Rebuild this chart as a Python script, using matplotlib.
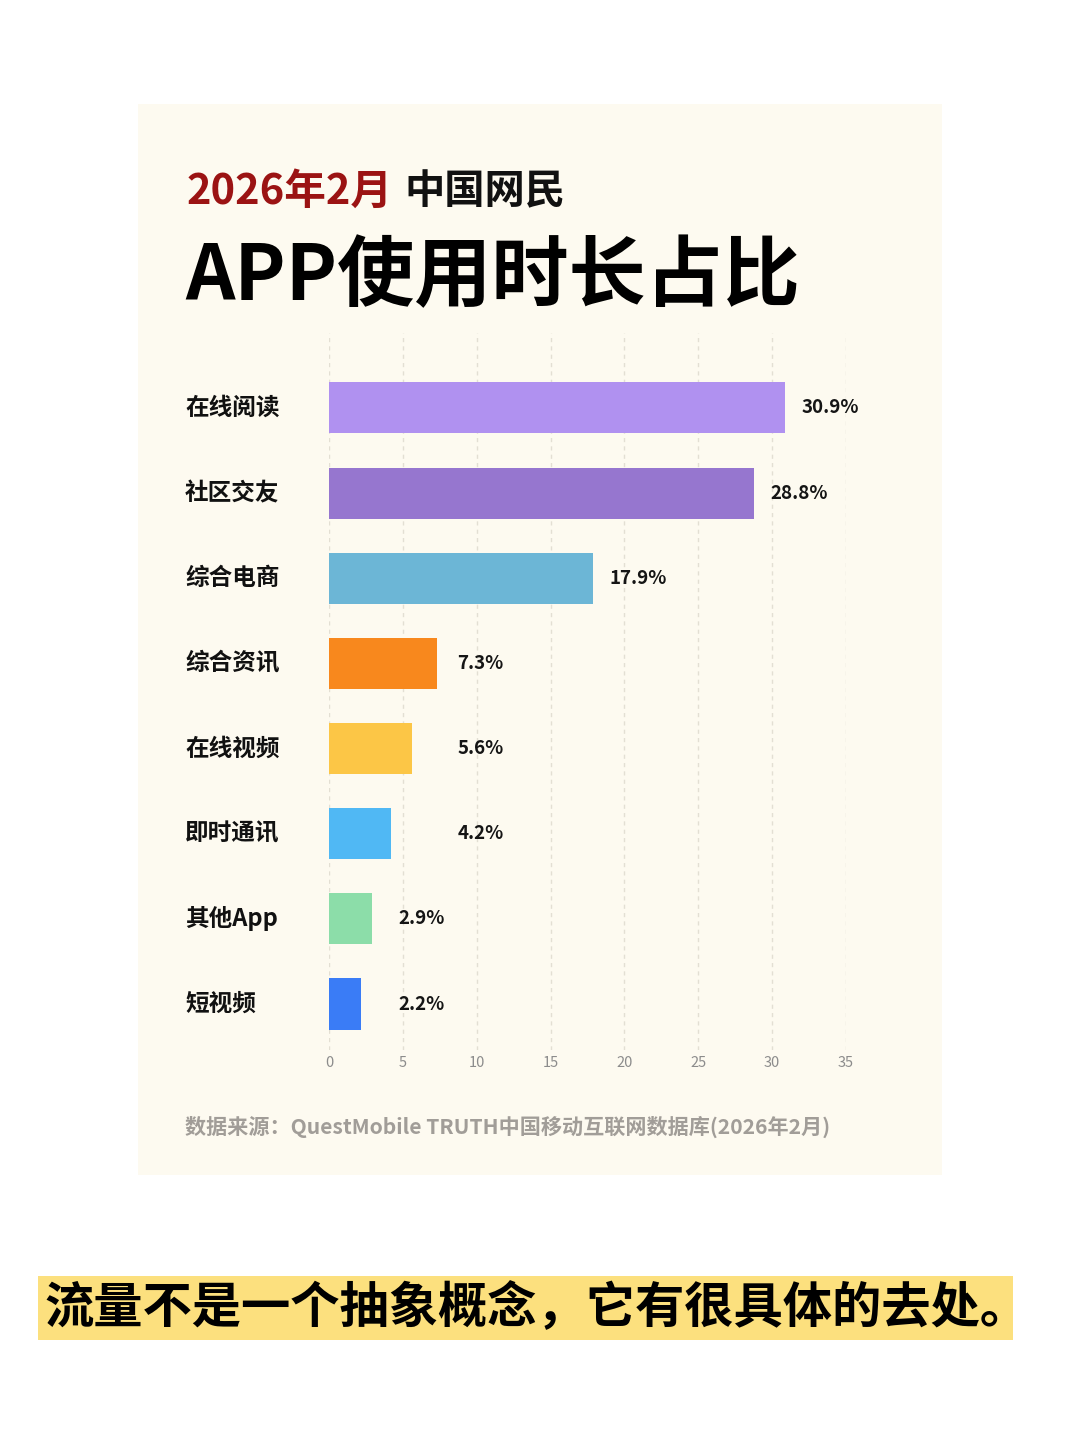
import numpy as np
import matplotlib
matplotlib.use("Agg")
import matplotlib.pyplot as plt
from matplotlib.patches import Rectangle

plt.rcParams["font.family"] = ["Noto Sans CJK SC", "DejaVu Sans"]

# ── Data ───────────────────────────────────────────────────────────────────────

CATEGORIES = ["在线阅读", "社区交友", "综合电商", "综合资讯",
              "在线视频", "即时通讯", "其他App", "短视频"]
SHARES     = [30.9, 28.8, 17.9, 7.3, 5.6, 4.2, 2.9, 2.2]
COLORS     = ["#B091F0", "#9676CF", "#6CB6D6", "#F8881D",
              "#FCC646", "#50B8F4", "#8CDDA9", "#3A7CF6"]
XTICKS     = [0, 5, 10, 15, 20, 25, 30, 35]

TITLE_DATE = "2026年2月"
TITLE_WHO  = "中国网民"
TITLE_MAIN = "APP使用时长占比"
SOURCE     = "数据来源：QuestMobile TRUTH中国移动互联网数据库(2026年2月)"
CAPTION    = "流量不是一个抽象概念，它有很具体的去处。"

W, H = 1080, 1440


def px(x, y):
    """pixel (from top-left) -> figure fraction"""
    return x / W, 1 - y / H


# ── Figure ─────────────────────────────────────────────────────────────────────

fig = plt.figure(figsize=(W / 100, H / 100), dpi=100)
fig.patch.set_facecolor("white")

# cream card
fig.patches.append(Rectangle(px(138, 1175), (942 - 138) / W, (1175 - 104) / H,
                             transform=fig.transFigure, facecolor="#FDFAF0",
                             edgecolor="none", zorder=-5))

# titles
fig.text(*px(187, 192), TITLE_DATE, color="#9B1313", fontsize=30,
         fontweight="heavy", va="center", ha="left")
fig.text(*px(404, 192), TITLE_WHO, color="#111111", fontsize=29,
         fontweight="heavy", va="center", ha="left")
fig.text(*px(185, 278), TITLE_MAIN, color="#000000", fontsize=55.5,
         fontweight="heavy", va="center", ha="left")

# chart
ax = fig.add_axes([329 / W, 1 - 1050 / H, (846 - 329) / W, (1050 - 333) / H])
ax.set_zorder(2)
ax.set_facecolor("none")
y = np.arange(len(CATEGORIES))
ax.barh(y, SHARES, height=0.6, color=COLORS, zorder=2)
ax.set_xlim(0, 35)
ax.set_ylim(len(CATEGORIES) - 0.46, -0.88)

for xt in XTICKS:
    ax.axvline(xt, color="#E3DFD3", lw=1, ls=(0, (3, 3)), zorder=1)

ax.set_xticks(XTICKS)
ax.tick_params(axis="x", length=0, pad=4, labelsize=10.5, labelcolor="#8C8C8C")
ax.set_yticks([])
for s in ax.spines.values():
    s.set_visible(False)

# category names on the left
for yi, name in zip(y, CATEGORIES):
    ax.annotate(name, xy=(0, yi), xycoords=("axes fraction", "data"),
                xytext=(185 - 329, 0), textcoords="offset pixels",
                ha="left", va="center", fontsize=17, fontweight="bold",
                color="#111111", annotation_clip=False)

# value labels: short bars get their label pushed out to a common column
for yi, v in zip(y, SHARES):
    lx = np.ceil(v / 4) * 4 + 0.7 if v < 10 else v + 1.1
    ax.text(lx, yi, f"{v:.1f}%", ha="left", va="center", fontsize=13.5,
            fontweight="bold", color="#151515", clip_on=False)

# source
fig.text(*px(185, 1127), SOURCE, color="#A19D98", fontsize=15.2,
         fontweight="bold", va="center", ha="left")

# caption with yellow highlight
fig.patches.append(Rectangle(px(38, 1340), (1013 - 38) / W, (1340 - 1276) / H,
                             transform=fig.transFigure, facecolor="#FCE07E",
                             edgecolor="none", zorder=-5))
fig.text(*px(537, 1308), CAPTION, color="#000000", fontsize=35.5,
         fontweight="heavy", va="center", ha="center")

fig.savefig("out.png", dpi=100, facecolor=fig.get_facecolor())
